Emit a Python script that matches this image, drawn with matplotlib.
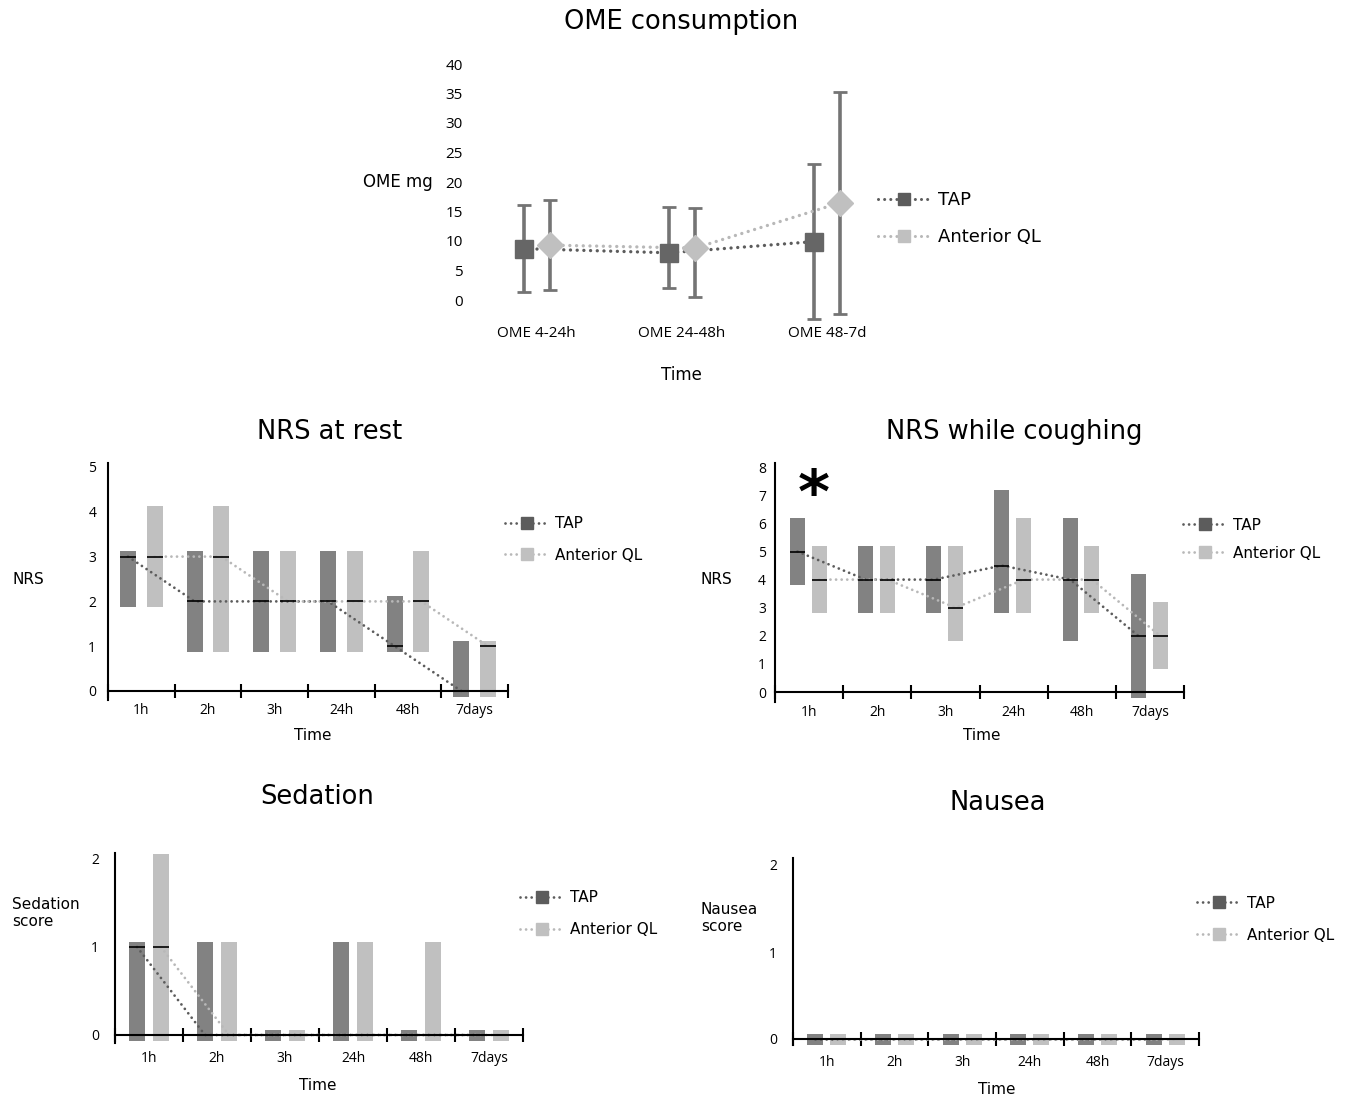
import matplotlib
matplotlib.use('Agg')
import matplotlib.pyplot as plt
from matplotlib.lines import Line2D
import numpy as np

W, H = 1352, 1098
DPI = 100

# ---------------- data ----------------
ome_cats = ['OME 4-24h', 'OME 24-48h', 'OME 48-7d']
ome_tap_mean = [8.7, 8.0, 9.9]
ome_tap_low = [1.4, 2.0, -3.3]
ome_tap_high = [16.1, 15.8, 23.1]
ome_ql_mean = [9.3, 8.8, 16.5]
ome_ql_low = [1.7, 0.5, -2.3]
ome_ql_high = [17.0, 15.6, 35.2]
ome_yticks = [0, 5, 10, 15, 20, 25, 30, 35, 40]

times = ['1h', '2h', '3h', '24h', '48h', '7days']

rest_tap_med = [3, 2, 2, 2, 1, 0]
rest_tap_q1 = [2, 1, 1, 1, 1, 0]
rest_tap_q3 = [3, 3, 3, 3, 2, 1]
rest_ql_med = [3, 3, 2, 2, 2, 1]
rest_ql_q1 = [2, 1, 1, 1, 1, 0]
rest_ql_q3 = [4, 4, 3, 3, 3, 1]

cough_tap_med = [5, 4, 4, 4.5, 4, 2]
cough_tap_q1 = [4, 3, 3, 3, 2, 0]
cough_tap_q3 = [6, 5, 5, 7, 6, 4]
cough_ql_med = [4, 4, 3, 4, 4, 2]
cough_ql_q1 = [3, 3, 2, 3, 3, 1]
cough_ql_q3 = [5, 5, 5, 6, 5, 3]

sed_tap_med = [1, 0, 0, 0, 0, 0]
sed_tap_q1 = [0, 0, 0, 0, 0, 0]
sed_tap_q3 = [1, 1, 0, 1, 0, 0]
sed_ql_med = [1, 0, 0, 0, 0, 0]
sed_ql_q1 = [0, 0, 0, 0, 0, 0]
sed_ql_q3 = [2, 1, 0, 1, 1, 0]

nau_tap_med = [0, 0, 0, 0, 0, 0]
nau_tap_q1 = [0, 0, 0, 0, 0, 0]
nau_tap_q3 = [0, 0, 0, 0, 0, 0]
nau_ql_med = [0, 0, 0, 0, 0, 0]
nau_ql_q1 = [0, 0, 0, 0, 0, 0]
nau_ql_q3 = [0, 0, 0, 0, 0, 0]

series_names = ['TAP', 'Anterior QL']

# ---------------- style ----------------
TAP_BAR = '#828282'
QL_BAR = '#c0c0c0'
TAP_LINE = '#5c5c5c'
QL_LINE = '#b8b8b8'
ERR = '#747474'
DOT = (0, (0.01, 2.0))
TEXT_FONT = ['DejaVu Sans']
TICK_FONT = ['Open Sans', 'DejaVu Sans']

fig = plt.figure(figsize=(W / DPI, H / DPI), dpi=DPI)


def add_ax(l, t, r, b):
    return fig.add_axes([l / W, 1 - b / H, (r - l) / W, (b - t) / H])


def ftext(x, y, s, size, ha='center', va='center', **kw):
    fig.text(x / W, 1 - y / H, s, fontsize=size, ha=ha, va=va,
             family=TEXT_FONT, **kw)


def add_legend(x, ys, fs, hl, ms, lw):
    handles = [
        Line2D([], [], color=TAP_LINE, ls=DOT, lw=lw, marker='s', ms=ms,
               mfc=TAP_LINE, mec=TAP_LINE, dash_capstyle='round'),
        Line2D([], [], color=QL_LINE, ls=DOT, lw=lw, marker='s', ms=ms,
               mfc=QL_BAR, mec=QL_BAR, dash_capstyle='round'),
    ]
    for h, name, y in zip(handles, series_names, ys):
        fig.legend([h], [name], loc='center left',
                   bbox_to_anchor=(x / W, 1 - y / H),
                   frameon=False, borderpad=0, borderaxespad=0,
                   handlelength=hl, handletextpad=0.4,
                   prop={'family': TEXT_FONT, 'size': fs})


# ---------------- OME panel ----------------
ax = add_ax(464, 60, 900, 322)
y0, unit = 300, 5.9
ax.set_xlim(-0.5, 2.5)
ax.set_ylim(-(322 - y0) / unit, (y0 - 60) / unit)
xc = np.arange(len(ome_cats))
off = 0.09
xt = xc - off
xq = xc + off
ax.plot(xt, ome_tap_mean, ls=DOT, lw=2.4, color=TAP_LINE, zorder=2,
        dash_capstyle='round')
ax.plot(xq, ome_ql_mean, ls=DOT, lw=2.4, color=QL_LINE, zorder=2,
        dash_capstyle='round')
ax.errorbar(xt, ome_tap_mean,
            yerr=[np.subtract(ome_tap_mean, ome_tap_low),
                  np.subtract(ome_tap_high, ome_tap_mean)],
            fmt='none', ecolor=ERR, elinewidth=2.6, capsize=5, capthick=2,
            zorder=1)
ax.errorbar(xq, ome_ql_mean,
            yerr=[np.subtract(ome_ql_mean, ome_ql_low),
                  np.subtract(ome_ql_high, ome_ql_mean)],
            fmt='none', ecolor=ERR, elinewidth=2.6, capsize=5, capthick=2,
            zorder=1)
ax.plot(xt, ome_tap_mean, ls='none', marker='s', ms=13, color='#666666',
        zorder=3)
ax.plot(xq, ome_ql_mean, ls='none', marker='D', ms=13, color=QL_BAR,
        zorder=3)
for s in ax.spines.values():
    s.set_visible(False)
ax.set_yticks(ome_yticks)
ax.set_xticks(xc)
ax.set_xticklabels(ome_cats)
ax.tick_params(length=0)
ax.tick_params(axis='y', pad=1)
ax.tick_params(axis='x', pad=3)
for lab in ax.get_xticklabels() + ax.get_yticklabels():
    lab.set_family(TICK_FONT)
    lab.set_fontsize(11)
ftext(681, 22, 'OME consumption', 18.5)
ftext(398, 182, 'OME mg', 12)
ftext(681, 375, 'Time', 12)
add_legend(878, [200, 237], 13, 2.9, 9, 2.2)


# ---------------- range-bar panels ----------------
def panel(l, r, y0, unit, top, bot, yticks, offs, bw,
          tap, ql, ytpad, xtpad):
    ax = add_ax(l, top, r, bot)
    ax.set_xlim(-0.5, 5.5)
    ax.set_ylim(-(bot - y0) / unit, (y0 - top) / unit)
    pad = 5.5 / unit
    x = np.arange(len(times))
    for (med, q1, q3), o, bc, lc in ((tap, offs[0], TAP_BAR, TAP_LINE),
                                      (ql, offs[1], QL_BAR, QL_LINE)):
        q1 = np.asarray(q1, float)
        q3 = np.asarray(q3, float)
        ax.bar(x + o, q3 - q1 + 2 * pad, bottom=q1 - pad, width=bw,
               color=bc, zorder=2, clip_on=False)
        ax.plot(x + o, med, ls=DOT, lw=2.0, color=lc, zorder=3,
                dash_capstyle='round', clip_on=False)
        ax.hlines(med, x + o - bw / 2, x + o + bw / 2, color='black',
                  lw=1.2, zorder=4)
    ax.spines['top'].set_visible(False)
    ax.spines['right'].set_visible(False)
    ax.spines['bottom'].set_position(('data', 0))
    ax.spines['left'].set_linewidth(1.5)
    ax.spines['bottom'].set_linewidth(1.5)
    ax.spines['bottom'].set_zorder(5)
    ax.set_yticks(yticks)
    ax.set_xticks(x)
    ax.set_xticklabels(times)
    ax.set_xticks(np.arange(-0.5, 6.0, 1.0), minor=True)
    ax.tick_params(axis='x', which='major', length=0, pad=xtpad)
    ax.tick_params(axis='x', which='minor', length=10, width=1.5,
                   direction='inout')
    ax.tick_params(axis='y', length=0, pad=ytpad)
    for lab in ax.get_xticklabels() + ax.get_yticklabels():
        lab.set_family(TICK_FONT)
        lab.set_fontsize(10)
    return ax


# NRS at rest
panel(108, 508, 691, 44.8, 463, 700, [0, 1, 2, 3, 4, 5], (-0.2, 0.2), 0.24,
      (rest_tap_med, rest_tap_q1, rest_tap_q3),
      (rest_ql_med, rest_ql_q1, rest_ql_q3), 8.5, 9)
ftext(330, 432, 'NRS at rest', 18.5)
ftext(12, 579, 'NRS', 11, ha='left')
ftext(313, 735, 'Time', 11)
add_legend(505, [524, 555], 11, 2.9, 8, 2.0)

# NRS while coughing
panel(775, 1184, 692, 28.1, 463, 702, list(range(9)), (-0.17, 0.15),
      0.22, (cough_tap_med, cough_tap_q1, cough_tap_q3),
      (cough_ql_med, cough_ql_q1, cough_ql_q3), 6.5, 9)
ftext(1014, 432, 'NRS while coughing', 18.5)
ftext(700, 579, 'NRS', 11, ha='left')
ftext(982, 735, 'Time', 11)
ftext(814, 496, '*', 44, fontweight='bold')
add_legend(1183, [525, 553], 11, 2.9, 8, 2.0)

# Sedation
panel(115, 523, 1035, 88, 853, 1043, [0, 1, 2], (-0.176, 0.176), 0.235,
      (sed_tap_med, sed_tap_q1, sed_tap_q3),
      (sed_ql_med, sed_ql_q1, sed_ql_q3), 11.5, 11.5)
ftext(317, 797, 'Sedation', 18.5)
ftext(12, 913, 'Sedation\nscore', 11, ha='left', linespacing=1.1)
ftext(318, 1086, 'Time', 11)
add_legend(520, [898, 930], 11, 2.9, 8, 2.0)

# Nausea
panel(793, 1199, 1039, 87, 858, 1045, [0, 1, 2], (-0.17, 0.17), 0.236,
      (nau_tap_med, nau_tap_q1, nau_tap_q3),
      (nau_ql_med, nau_ql_q1, nau_ql_q3), 11.5, 11.5)
ftext(998, 803, 'Nausea', 18.5)
ftext(701, 918, 'Nausea\nscore', 11, ha='left', linespacing=1.1)
ftext(997, 1090, 'Time', 11)
add_legend(1197, [903, 935], 11, 2.9, 8, 2.0)

fig.savefig('out.png', dpi=DPI)
